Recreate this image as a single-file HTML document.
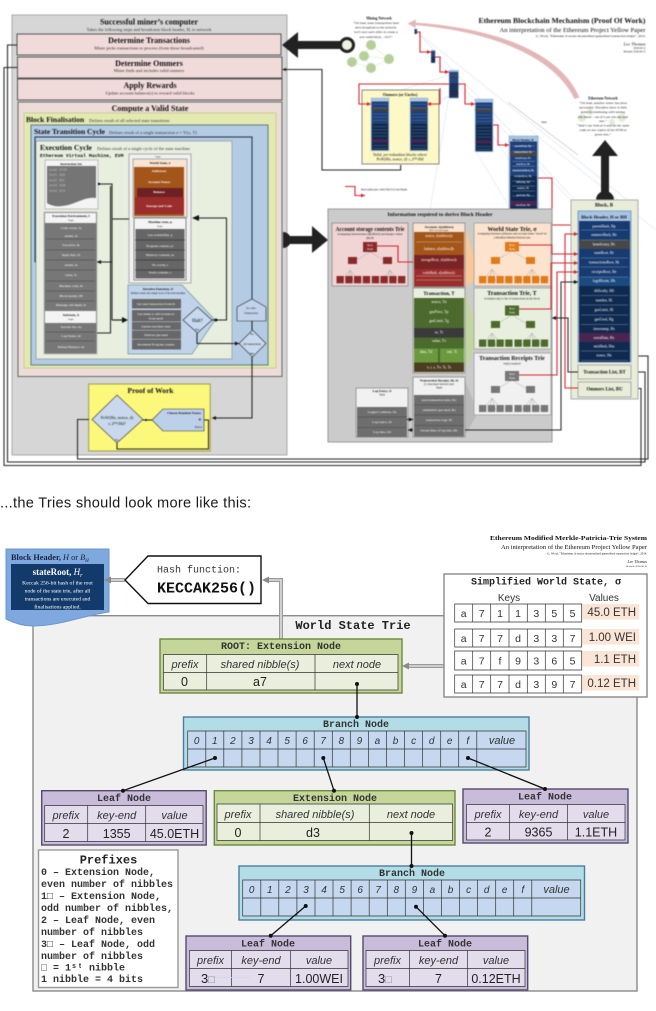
<!DOCTYPE html>
<html><head><meta charset="utf-8"><style>
html,body{margin:0;padding:0;background:#fff;width:656px;height:1011px;overflow:hidden}
svg{display:block;position:absolute;left:0;top:0}
text{font-family:"Liberation Serif",serif;fill:#111}
.c{text-anchor:middle}.e{text-anchor:end}.b{font-weight:bold}.i{font-style:italic}
.w{fill:#fff}.m{font-family:"Liberation Mono","DejaVu Sans Mono",monospace}
.a{font-family:"Liberation Sans","DejaVu Sans",sans-serif}
.t{font-size:3.4px}.u{font-size:4.5px;fill:#333}
.n{font-family:"Liberation Mono",monospace;font-weight:bold;font-size:10px;text-anchor:middle;fill:#333}
.h{font-family:"Liberation Sans",sans-serif;font-style:italic;font-size:11px;text-anchor:middle;fill:#333}
.v{font-family:"Liberation Sans","DejaVu Sans",sans-serif;font-size:12.5px;text-anchor:middle;fill:#222}
.p{font-family:"Liberation Mono",monospace;font-weight:bold;font-size:10px;fill:#333}
.k{font-family:"Liberation Sans",sans-serif;font-size:10px;text-anchor:middle;fill:#333}
.r{fill:none;stroke:#d3252b;stroke-width:1.1}
.d{fill:none;stroke:#222;stroke-width:1.05}
.tb{fill:none;stroke:#333;stroke-width:.7}
</style></head><body>
<svg width="656" height="1011" viewBox="0 0 656 1011" xmlns="http://www.w3.org/2000/svg">
<defs>
<marker id="a" markerWidth="6" markerHeight="6" refX="4" refY="2" orient="auto" markerUnits="userSpaceOnUse"><path d="M0 0L4 2L0 4Z" fill="#111"/></marker>
<marker id="q" markerWidth="6" markerHeight="6" refX="4" refY="2" orient="auto" markerUnits="userSpaceOnUse"><path d="M0 0L4 2L0 4Z" fill="#d3252b"/></marker>
<g id="blk"><rect width="53" height="151" fill="#a8c4e4" stroke="#7f9fc8"/><rect x="2" y="10" width="49" height="62" fill="#1d3f78"/><rect x="2" y="72" width="49" height="77" fill="#102a4f"/><rect x="2" y="28" width="49" height="9" fill="#444"/><rect x="2" y="118" width="49" height="9" fill="#4a2550"/><path d="M6 18H47M6 28H47M6 46H47M6 55H47M6 64H47M6 82H47M6 91H47M6 100H47M6 109H47M6 136H47M6 144H47" stroke="#9db6d8" stroke-width=".7"/></g>
<g id="tree"><path d="M35 9L15 21M35 9L55 21M15 27L5 40M15 27L12 40M15 27L19 40M15 27L26 40M55 27L44 40M55 27L51 40M55 27L58 40M55 27L65 40" stroke="#aaa" stroke-width=".5" fill="none"/></g>
</defs>

<g style="filter:blur(.45px)">
<!-- left main box -->
<rect x="12" y="15" width="275" height="440" fill="#d6d6d6" stroke="#aaa"/>
<text x="149" y="24.5" class="c b" font-size="8">Successful miner’s computer</text>
<text x="149" y="31" class="c u">Takes the following steps and broadcasts block header, H, to network</text>
<rect x="17" y="34" width="264" height="21" fill="#f1dada" stroke="#555"/>
<text x="149" y="43" class="c b" font-size="8">Determine Transactions</text>
<text x="149" y="49.5" class="c u">Miner picks transactions to process (from those broadcasted)</text>
<rect x="17.5" y="57" width="264.5" height="21" fill="#f1dada" stroke="#555"/>
<text x="149" y="66" class="c b" font-size="8">Determine Ommers</text>
<text x="149" y="72" class="c u">Miner finds and includes valid ommers</text>
<rect x="17.5" y="79" width="264.5" height="21" fill="#f1dada" stroke="#555"/>
<text x="150" y="88" class="c b" font-size="8">Apply Rewards</text>
<text x="150" y="94.5" class="c u">Update account balance(s) to reward valid blocks</text>
<rect x="18" y="102" width="264" height="274.5" fill="#eedcd8" stroke="#666"/>
<text x="150" y="111" class="c b" font-size="8">Compute a Valid State</text>
<rect x="24" y="113" width="252" height="255" fill="#e3e9b0" stroke="#c9cf95"/>
<text x="26" y="122" class="b" font-size="7.5">Block Finalisation</text>
<text x="89" y="122" class="u">Defines result of all selected state transitions</text>
<rect x="31" y="125" width="237" height="240" fill="#b4cbe4" stroke="#5f7a80"/>
<text x="34" y="134" class="b" font-size="7.5" fill="#123">State Transition Cycle</text>
<text x="109" y="134" class="u">Defines result of a single transaction σ = Υ(σ, T)</text>
<path d="M35 262V137H252V300" fill="none" stroke="#1a2f44" stroke-width="1"/>
<path d="M35 262H44" class="d" marker-end="url(#a)"/>
<rect x="36" y="141" width="196" height="218" fill="#e9efdf" stroke="#9aa"/>
<text x="40" y="150" class="b" font-size="7.5">Execution Cycle</text>
<text x="97" y="150" class="u">Defines result of a single cycle of the state machine</text>
<text x="40" y="157" class="m b" font-size="4.8">Ethereum Virtual Machine, EVM</text>

<!-- instruction set -->
<rect x="45" y="160" width="53" height="49" fill="#f4f4f4" stroke="#bbb"/>
<text x="71" y="165" class="c t b">Instruction Set</text>
<path d="M47 166H96V198C85 196 75 205 62 206C55 207 50 205 47 203Z" fill="#757575"/>
<text x="49" y="171" class="m t" style="fill:#bbb">0x00 STOP</text><text x="49" y="176" class="m t" style="fill:#bbb">0x01 ADD</text><text x="49" y="181.5" class="m t" style="fill:#bbb">0x02 MUL</text><text x="49" y="186.5" class="m t" style="fill:#bbb">0x03 SUB</text><text x="49" y="192" class="m t" style="fill:#bbb">0x04 DIV</text>

<!-- execution env -->
<rect x="44" y="212" width="53" height="142" fill="#777" stroke="#bbb"/>
<rect x="45" y="213" width="51" height="10" fill="#f4f4f4"/>
<text x="71" y="217" class="c t b">Execution Environment, I</text><text x="71" y="221" class="c" font-size="2.5">Tuple</text>
<rect x="45" y="311" width="51" height="12" fill="#f4f4f4"/>
<text x="71" y="316" class="c t b">Substate, A</text><text x="71" y="320" class="c" font-size="2.5">Tuple</text>
<path d="M46 239H95M46 250H95M46 260H95M46 270H95M46 281H95M46 291H95M46 301H95M46 332H95M46 341H95" stroke="#444" stroke-width=".5"/>
<text x="71" y="229" class="c t w">Code owner, Ia</text><text x="71" y="237" class="c t w">sender, Is</text><text x="71" y="246" class="c t w">Gas price, Ip</text><text x="71" y="256" class="c t w">Input data, Id</text><text x="71" y="266" class="c t w">sender, Is</text><text x="71" y="276" class="c t w">value, Iv</text><text x="71" y="287" class="c t w">Machine code, Ib</text><text x="71" y="297" class="c t w">Block header, IH</text><text x="71" y="306" class="c t w">Message call depth, Ie</text><text x="71" y="328" class="c t w">Suicide Set, As</text><text x="71" y="337" class="c t w">Log Series, Al</text><text x="71" y="348" class="c t w">Refund Balance, Ar</text>

<!-- tasks panel -->
<rect x="129" y="154" width="62" height="129" fill="#f1f1f1" stroke="#aaa"/>
<text x="158" y="157.5" class="c" font-size="2.5">Tuple</text>
<rect x="133" y="159" width="54" height="58" fill="#f9e3d2" stroke="#aaa"/>
<text x="160" y="164" class="c t b">World State, σ</text>
<rect x="134" y="167" width="50" height="49" fill="#a4561a"/>
<rect x="137" y="188" width="46" height="9" fill="#6f2022"/>
<rect x="135" y="197" width="49" height="17" fill="#9b2d2d"/>
<text x="159" y="172" class="c t w b">Addresses</text><text x="159" y="183" class="c t w b">Account Nonce</text><text x="159" y="193" class="c t w b">Balance</text><text x="159" y="207" class="c t w b">Storage and Code</text>
<rect x="134" y="218" width="52" height="62" fill="#f4f4f4" stroke="#888"/>
<text x="160" y="223" class="c t b">Machine state, μ</text><text x="160" y="227" class="c" font-size="2.5">Tuple</text>
<rect x="135.5" y="229" width="49" height="49.5" fill="#666"/>
<path d="M135 240H185M135 250H185M135 260H185M135 270H185" stroke="#222" stroke-width=".6"/>
<text x="160" y="236" class="c t w">Gas availability, g</text><text x="160" y="247" class="c t w">Program counter, pc</text><text x="160" y="256" class="c t w">Memory contents, m</text><text x="160" y="266" class="c t w">No words, i</text><text x="160" y="273.5" class="c t w">Stack contents, s</text>

<!-- iterative -->
<path d="M128 285H182L215 320L192 354H128Z" fill="#c0d3ea" stroke="#8aa"/>
<text x="158" y="290" class="c t b">Iterative Function, O</text><text x="158" y="294" class="c" font-size="2.6">Defines result once single cycle of the state machine</text>
<g fill="#686868"><rect x="132" y="299" width="49" height="9.5"/><rect x="132" y="310" width="49" height="11.5"/><rect x="132" y="322" width="49" height="8"/><rect x="132" y="330.5" width="49" height="8.5"/><rect x="132" y="339.5" width="49" height="10"/></g>
<text x="156" y="305" class="c t w">Get next instruction from Ib</text><text x="156" y="315" class="c t w">Get items to add to/remove</text><text x="156" y="319.5" class="c t w">from stack</text><text x="156" y="327.5" class="c t w">Update machine state</text><text x="156" y="336" class="c t w">Subtract gas used</text><text x="156" y="345.5" class="c t w">Increment Program counter</text>
<path d="M197.5 307L212 320L197.5 333L183 320Z" fill="#c8d8ee" stroke="#222" stroke-width=".6"/>
<text x="197.5" y="322" class="c" font-size="5">Halt?</text><text x="197" y="330.5" class="c" font-size="3">Yes</text>
<path d="M237 307L252 299L266 307V321H237Z" fill="#c0d3ea" stroke="#222" stroke-width=".6"/>
<text x="251" y="309" class="c" font-size="3">Go onto</text><text x="251" y="314" class="c" font-size="3">Transaction</text>
<path d="M252.5 330L266 343.5L252.5 357L239 343.5Z" fill="#c8d8ee" stroke="#222" stroke-width=".6"/>
<text x="252" y="335" class="c" font-size="3">No</text><text x="252" y="345" class="c" font-size="2.8">All transactions</text><text x="252" y="354.5" class="c" font-size="3">Yes</text>

<!-- EVM wires -->
<path d="M99 184H112V320" class="d" stroke-width="1.1"/><circle cx="99" cy="184" r="1.2" fill="#111"/>
<path d="M110.5 186V333H97M112 219H129M112 262H97" class="d" marker-end="url(#a)"/>
<path d="M112 320H125" stroke="#222" stroke-width="1.2"/><path d="M122 317L128 320L122 323Z" fill="#111"/>
<path d="M212 320H226.5V218H197" class="d"/><path d="M199 215L192 218L199 221Z" fill="#111"/><circle cx="216" cy="320" r="1.5" fill="#111"/>
<path d="M197 333V343.5H239" class="d" marker-end="url(#a)"/>
<path d="M252 321V330" class="d"/>
<path d="M252 357V418H212" class="d" marker-end="url(#a)"/>

<!-- PoW -->
<rect x="88.7" y="384" width="121.5" height="67" fill="#fbf87c" stroke="#9a9a55"/>
<text x="150.5" y="393" class="c b" font-size="7.5">Proof of Work</text>
<path d="M92 419.5L117 395L143 419.5L117 443Z" fill="#c9d8ec" stroke="#333" stroke-width=".6"/>
<text x="117" y="419" class="c" font-size="4.2">PoW(Hn, nonce, d)</text><text x="117" y="425" class="c" font-size="4.2">≤ 2²⁵⁶/Hd?</text><text x="117" y="441" class="c" font-size="3.2">No</text>
<path d="M152 420L163 409H204V431H163Z" fill="#bdd0ea" stroke="#333" stroke-width=".6"/>
<text x="184" y="414" class="c b" font-size="3.4">Choose Random Nonce</text><text x="201" y="420.5" class="e b" font-size="4">n</text><text x="202" y="428" class="e" font-size="2.8">Pick it</text>
<path d="M152 420H143" class="d"/><circle cx="146" cy="420" r="1" fill="#111"/>
<path d="M117 443V449H208.5V420H204" class="d" stroke="#5b5b00"/>

<!-- outer wires -->
<path d="M17 45H7.5V462H645V372H632" class="d" marker-end="url(#a)"/>
<path d="M17 67.5H4V465.5H641V388.5H632" class="d" marker-end="url(#a)"/>
<path d="M89 419.5H77.5V459H648V356H632" class="d" marker-end="url(#a)"/>
<path d="M283 69.5H322V170H400.7V165" class="d" stroke="#333"/><path d="M286 68L282 69.5L286 71Z" fill="#111"/>

<!-- big arrows -->
<path d="M347 41H298V32L282 45L298 58V49H347Z" fill="#222"/>
<circle cx="347" cy="45" r="6.5" fill="#eef2e4" stroke="#222" stroke-width="3"/>
<path d="M283 232A8 8 0 0 1 283 248Z" fill="#222"/>
<path d="M286 236H312V226L328 240L312 253V244H286Z" fill="#222"/>

<!-- mining network -->
<path d="M371 45L364 56L352 62M364 56L371 68M364 56L389 59M371 45L389 59M352 62L371 68M371 68L389 59" stroke="#dfe9d2" stroke-width=".6" fill="none"/>
<g fill="#b7d09a"><circle cx="371" cy="45" r="5"/><circle cx="364" cy="56" r="5"/><circle cx="352" cy="62" r="5"/><circle cx="371" cy="68" r="5"/><circle cx="389" cy="59" r="5"/></g>
<text x="379" y="19.5" class="c b" font-size="3.6">Mining Network</text>
<text class="c i" font-size="3.4"><tspan x="376" y="24">“Oh look, some transactions have</tspan><tspan x="376" y="28.5">been broadcast to the network.</tspan><tspan x="376" y="33">Let’s race each other to create a</tspan><tspan x="376" y="38">new valid block… GO!”</tspan></text>

<!-- title -->
<text x="645.5" y="23" class="e b" font-size="7.6" textLength="167" lengthAdjust="spacingAndGlyphs">Ethereum Blockchain Mechanism (Proof Of Work)</text>
<text x="645.5" y="32" class="e" font-size="6.6" textLength="146" lengthAdjust="spacingAndGlyphs">An interpretation of the Ethereum Project Yellow Paper</text>
<text x="645.5" y="37" class="e" font-size="3.3">G. Wood, “Ethereum: A secure decentralised generalised transaction ledger”, 2014.</text>
<text x="645.5" y="45.5" class="e i" font-size="4.5">Lee Thomas</text>
<text x="645.5" y="49" class="e" font-size="2.6">2016-04-12</text><text x="645.5" y="52.5" class="e" font-size="2.6">Revised: 2016-06-15</text>

<!-- faint fan lines -->
<path d="M417 32L640 210M417 32L575 200M436 60L580 210M458 85L540 205M449 96L385 120M449 96L430 210M449 96L362 160M475 150L510 208M449 75L370 100M530 130L656 230" stroke="#dce8f0" stroke-width=".7" fill="none"/>
<path d="M508 102L578 155" stroke="#999" stroke-width=".5" fill="none"/><text x="544" y="123" class="c" font-size="3">time</text>

<!-- pink arrow (tapered) -->
<path d="M579.5 97.5C558 47 482 26.5 413 22.5L413.5 25C480 30 552 52 574.5 99Z" fill="#e3b7ba"/>
<path d="M407.5 23.5L416 19.5L415.5 28Z" fill="#e3b7ba"/>

<!-- blocks -->
<rect x="414.5" y="29" width="2.5" height="5" fill="#1d3f78"/>
<use href="#blk" transform="translate(431,50) scale(.08,.086)"/>
<use href="#blk" transform="translate(449,70) scale(.18,.186)"/>
<use href="#blk" transform="translate(475,99) scale(.34,.35)"/>
<use href="#blk" transform="translate(509,136) scale(.55,.55)"/>
<text x="523" y="141" class="c b" font-size="3">Block Header, H</text>
<text class="c w" font-size="2.6"><tspan x="523" y="147" class="w">parentHash, Hp</tspan><tspan x="523" y="153">ommersHash, Ho</tspan><tspan x="523" y="159">beneficiary, Hc</tspan><tspan x="523" y="165">stateRoot, Hr</tspan><tspan x="523" y="171">transactionsRoot, Ht</tspan><tspan x="523" y="177">receiptsRoot, He</tspan><tspan x="523" y="183">difficulty, Hd</tspan><tspan x="523" y="189">number, Hi</tspan><tspan x="523" y="196">gasUsed, Hg</tspan><tspan x="523" y="206">extraData, Hx</tspan></text>

<!-- ommers box -->
<rect x="362" y="90" width="77" height="74" fill="#fdf9c6" stroke="#888"/>
<text x="400" y="96" class="c b" font-size="4">Ommers (or Uncles)</text>
<use href="#blk" transform="translate(371,98) scale(.34,.35)"/>
<use href="#blk" transform="translate(410,98) scale(.34,.35)"/>
<text x="400" y="156" class="c i" font-size="4">Valid, yet redundant blocks where</text>
<text x="400" y="160.5" class="c i" font-size="4">PoW(Hn, nonce, d) ≤ 2²⁵⁶/Hd</text>

<!-- red chain -->
<path d="M417 32H420V52H431" class="r" marker-end="url(#q)"/>
<path d="M435 57H440V72H449" class="r" marker-end="url(#q)"/>
<path d="M449 84H359V104H371" class="r" marker-end="url(#q)"/>
<path d="M458 84H465V104H475" class="r" marker-end="url(#q)"/>
<path d="M440 88V104H427" class="r" marker-end="url(#q)"/>
<path d="M493 125H498V145H509" class="r" marker-end="url(#q)"/>
<path d="M538 178H552V225H578" class="r" marker-end="url(#q)"/>
<path d="M345 186.5H355V195.5H365" class="r" marker-end="url(#q)"/>
<text x="361" y="190.5" font-size="3.2">Red indicates 160/256/512-bit Hash</text>

<!-- ethereum network text -->
<g fill="#e2ecd5"><circle cx="582" cy="118" r="4"/><circle cx="622" cy="118" r="4"/><circle cx="590" cy="112" r="3"/><circle cx="612" cy="122" r="3"/></g>
<text x="603" y="99.5" class="c b" font-size="3.6">Ethereum Network</text>
<text class="c i" font-size="3.5"><tspan x="603" y="104">“Oh look, another miner has been</tspan><tspan x="603" y="108.5">successful. Therefore there is little</tspan><tspan x="603" y="113">point in continuing with mining</tspan><tspan x="603" y="118">this block – see if I can win the next</tspan><tspan x="603" y="122">one.”</tspan><tspan x="603" y="126.5">“And I can look at it and do the same</tspan><tspan x="603" y="131">code on our copies of the EVM to</tspan><tspan x="603" y="135.5">prove this.”</tspan></text>
<path d="M605 140L618 156H609V195H601V156H592Z" fill="#222"/>
<path d="M596 200A9 9 0 0 1 614 200Z" fill="#222"/>

<!-- Information box -->
<rect x="328" y="209" width="224" height="233" fill="#cbcbcb" stroke="#999"/>
<text x="440" y="216" class="c b" font-size="5.7" textLength="105" lengthAdjust="spacingAndGlyphs">Information required to derive Block Header</text>

<!-- trees -->
<rect x="332" y="223" width="76" height="63" fill="#f1d5d5" stroke="#999"/>
<text x="370" y="231" class="c b" font-size="5.8" textLength="69" lengthAdjust="spacingAndGlyphs">Account storage contents Trie</text>
<text x="370" y="235" class="c" font-size="3">A mapping between keccak(SHA3) and Integer values</text><text x="370" y="239" class="c" font-size="3">(RLP)</text>
<use href="#tree" transform="translate(335,243)"/>
<rect x="363" y="242" width="14" height="10" fill="#8b2a2a"/><text x="370" y="246" class="c w" font-size="2.8">Root</text><text x="370" y="250" class="c w" font-size="2.8">Node</text>
<g fill="#8b2a2a"><rect x="348" y="257" width="9" height="7"/><rect x="383" y="257" width="9" height="7"/><rect x="336.5" y="276" width="7.3" height="7.3"/><rect x="345.3" y="276" width="7.3" height="7.3"/><rect x="354" y="276" width="7.3" height="7.3"/><rect x="362.8" y="276" width="7.3" height="7.3"/><rect x="371.8" y="276" width="7.3" height="7.3"/><rect x="380.5" y="276" width="7.3" height="7.3"/><rect x="389.2" y="276" width="7.3" height="7.3"/><rect x="398" y="276" width="7.3" height="7.3"/></g>

<path d="M465 225L479 277L465 287Z" fill="#fbc796"/>
<path d="M465 290L479 338L465 370Z" fill="#c2d6a0"/>
<path d="M465 380L478 413L465 435Z" fill="#b9b9b9"/>

<rect x="474" y="223" width="77" height="63" fill="#fde3cd" stroke="#aaa"/>
<text x="512" y="231" class="c b" font-size="6">World State Trie, σ</text>
<text x="512" y="234.5" class="c" font-size="2.9">A mapping between addresses and account states ‘stored’ in</text><text x="512" y="238.5" class="c" font-size="2.9">a Modified Merkle-Patricia tree</text>
<use href="#tree" transform="translate(477,242)"/>
<rect x="505" y="242" width="14" height="9.5" fill="#e07b1a"/><text x="512" y="246" class="c w" font-size="2.8">Root</text><text x="512" y="250" class="c w" font-size="2.8">Node</text>
<g fill="#e07b1a"><rect x="491" y="257" width="9" height="7"/><rect x="526" y="257" width="9" height="7"/><rect x="479" y="276" width="7.3" height="7.3"/><rect x="487.8" y="276" width="7.3" height="7.3"/><rect x="496.5" y="276" width="7.3" height="7.3"/><rect x="505.2" y="276" width="7.3" height="7.3"/><rect x="514.5" y="276" width="7.3" height="7.3"/><rect x="523.2" y="276" width="7.3" height="7.3"/><rect x="532" y="276" width="7.3" height="7.3"/><rect x="540.8" y="276" width="7.3" height="7.3"/></g>

<rect x="474" y="288" width="77" height="61" fill="#e9efdf" stroke="#aaa"/>
<text x="512" y="295" class="c b" font-size="6">Transaction Trie, T</text>
<text x="512" y="299.5" class="c" font-size="2.9">A trie(keccak) to list of transactions in the block</text>
<use href="#tree" transform="translate(477,306)"/>
<rect x="505" y="305.5" width="14" height="10" fill="#4c6a2b"/><text x="512" y="309.5" class="c w" font-size="2.8">Root</text><text x="512" y="313.5" class="c w" font-size="2.8">Node</text>
<g fill="#4c6a2b"><rect x="491" y="321" width="9" height="7"/><rect x="526" y="321" width="9" height="7"/><rect x="479" y="339.5" width="7.3" height="7.3"/><rect x="487.8" y="339.5" width="7.3" height="7.3"/><rect x="496.5" y="339.5" width="7.3" height="7.3"/><rect x="505.2" y="339.5" width="7.3" height="7.3"/><rect x="514.5" y="339.5" width="7.3" height="7.3"/><rect x="523.2" y="339.5" width="7.3" height="7.3"/><rect x="532" y="339.5" width="7.3" height="7.3"/><rect x="540.8" y="339.5" width="7.3" height="7.3"/></g>

<rect x="474" y="353" width="77" height="62" fill="#f1f1f1" stroke="#aaa"/>
<text x="512" y="360" class="c b" font-size="6">Transaction Receipts Trie</text>
<text x="512" y="364.5" class="c" font-size="2.9">trie(r) required</text>
<use href="#tree" transform="translate(477,371)"/>
<rect x="505" y="371" width="14" height="10" fill="#777"/><text x="512" y="375" class="c w" font-size="2.8">Root</text><text x="512" y="379" class="c w" font-size="2.8">Node</text>
<g fill="#777"><rect x="491" y="386" width="9" height="7"/><rect x="526" y="386" width="9" height="7"/><rect x="479" y="405" width="7.3" height="7"/><rect x="487.8" y="405" width="7.3" height="7"/><rect x="496.5" y="405" width="7.3" height="7"/><rect x="505.2" y="405" width="7.3" height="7"/><rect x="514.5" y="405" width="7.3" height="7"/><rect x="523.2" y="405" width="7.3" height="7"/><rect x="532" y="405" width="7.3" height="7"/><rect x="540.8" y="405" width="7.3" height="7"/></g>

<!-- account -->
<rect x="413" y="223" width="52" height="64" fill="#f9e3d2" stroke="#999"/>
<text x="439" y="228" class="c b" font-size="3.4">Account, σ[address]</text><text x="439" y="231" class="c" font-size="2.5">RLP-encoded tuple</text>
<rect x="414" y="232" width="50" height="23" fill="#a4561a"/><rect x="414" y="255" width="50" height="14" fill="#7a2424"/><rect x="414" y="269" width="50" height="17.5" fill="#9b2d2d"/>
<text x="439" y="237" class="c w" font-size="3.6">nonce, σ[address]n</text><text x="439" y="250" class="c w" font-size="3.6">balance, σ[address]b</text><text x="439" y="261" class="c w" font-size="3.6">storageRoot, σ[address]s</text><text x="439" y="274" class="c w" font-size="3.6">codeHash, σ[address]c</text>
<path d="M416 242H462M416 276H462M416 280H462" stroke="#dca" stroke-width=".4"/>

<!-- transaction -->
<rect x="413" y="288" width="52" height="85" fill="#e9efdf" stroke="#999"/>
<text x="439" y="295" class="c b" font-size="5">Transaction, T</text>
<rect x="414" y="298" width="50" height="74" fill="#4b6b2d"/><rect x="414" y="328" width="50" height="9.5" fill="#3a3a3a"/><rect x="414" y="348.5" width="24" height="14" fill="#6a9a3d"/><rect x="440" y="348.5" width="24" height="14" fill="#6a9a3d"/><rect x="414" y="362.5" width="50" height="9.5" fill="#4a3d20"/>
<text class="c w" font-size="3.8"><tspan x="439" y="303" class="w">nonce, Tn</tspan><tspan x="439" y="313">gasPrice, Tp</tspan><tspan x="439" y="322">gasLimit, Tg</tspan><tspan x="439" y="333.5">to, Tt</tspan><tspan x="439" y="342">value, Tv</tspan><tspan x="426" y="353">data, Td</tspan><tspan x="452" y="353">init, Ti</tspan><tspan x="439" y="368.5">v, r, s, Tv, Tr, Ts</tspan></text>

<!-- receipts -->
<rect x="413" y="377" width="52" height="60" fill="#f1f1f1" stroke="#999"/>
<text x="439" y="381.5" class="c b" font-size="3.4">Transaction Receipt, Ri, Ω</text><text x="439" y="385" class="c" font-size="2.8">(C-structured derived one)</text><text x="439" y="388.5" class="c" font-size="2.8">Tuple</text>
<rect x="414" y="395" width="50" height="41.5" fill="#6e6e6e"/><path d="M414 405H464M414 415H464M414 425.5H464" stroke="#444" stroke-width=".5"/>
<text class="c w" font-size="3.4"><tspan x="439" y="401" class="w">post-transaction state, Rσ</tspan><tspan x="439" y="411">cumulative gas used, Ru</tspan><tspan x="439" y="421">transaction logs, Rl</tspan><tspan x="439" y="431.5">bloom filter of log info, Rb</tspan></text>

<!-- log -->
<rect x="356" y="388" width="52" height="49" fill="#f1f1f1" stroke="#999"/>
<text x="382" y="392" class="c b" font-size="3.4">Log Entry, O</text><text x="382" y="395.5" class="c" font-size="2.6">Tuple</text>
<rect x="357" y="407" width="50" height="30" fill="#6e6e6e"/><path d="M357 417H407M357 427.5H407" stroke="#444" stroke-width=".5"/>
<text class="c w" font-size="3.4"><tspan x="382" y="413" class="w">Logger’s address, Oa</tspan><tspan x="382" y="423">Log topics, Ot</tspan><tspan x="382" y="433">Log data, Od</tspan></text>
<path d="M407 419.5H413" class="d" marker-end="url(#a)"/><path d="M413 430H408" class="d" marker-end="url(#a)"/>

<!-- Block -->
<rect x="571" y="200" width="67" height="199" fill="#e8edd9" stroke="#aaa"/>
<text x="604" y="206.5" class="c b" font-size="5">Block, B</text>
<rect x="578" y="211" width="53" height="151" fill="#a8c4e4" stroke="#7f9fc8"/>
<text x="604" y="218.5" class="c b" font-size="4.6">Block Header, H or BH</text>
<g fill="#173a70"><rect x="579" y="221" width="51" height="19"/><rect x="579" y="249" width="51" height="28"/></g>
<rect x="579" y="240" width="51" height="9" fill="#474747"/>
<rect x="579" y="277" width="51" height="9" fill="#1b4a80"/>
<rect x="579" y="286" width="51" height="76" fill="#102a4f"/>
<rect x="579" y="333" width="51" height="9" fill="#4a2550"/>
<path d="M581 230H628M581 240H628M581 258H628M581 267H628M581 277H628M581 295.5H628M581 305H628M581 315H628M581 324.5H628M581 351H628M581 360.5H628" stroke="#8fa9cc" stroke-width=".4"/>
<text class="c w" font-size="3.7"><tspan x="604" y="227.5" class="w">parentHash, Hp</tspan><tspan x="604" y="236">ommersHash, Ho</tspan><tspan x="604" y="245.5">beneficiary, Hc</tspan><tspan x="604" y="254">stateRoot, Hr</tspan><tspan x="604" y="263.5">transactionsRoot, Ht</tspan><tspan x="604" y="273">receiptsRoot, He</tspan><tspan x="604" y="282">logsBloom, Hb</tspan><tspan x="604" y="292">difficulty, Hd</tspan><tspan x="604" y="301.5">number, Hi</tspan><tspan x="604" y="311">gasLimit, Hl</tspan><tspan x="604" y="320.5">gasUsed, Hg</tspan><tspan x="604" y="330">timestamp, Hs</tspan><tspan x="604" y="339">extraData, Hx</tspan><tspan x="604" y="347.5">mixHash, Hm</tspan><tspan x="604" y="356.5">nonce, Hn</tspan></text>
<rect x="578" y="365" width="53" height="14" fill="#e8edd9" stroke="#aaa"/>
<text x="604.5" y="373.5" class="c b" font-size="4.8">Transaction List, BT</text>
<rect x="578" y="382" width="53" height="15" fill="#e8edd9" stroke="#aaa"/>
<text x="604.5" y="390.5" class="c b" font-size="4.8">Ommers List, BU</text>

<!-- block wires -->
<path d="M377 246H398V262H413" class="r"/>
<path d="M519 245H552V254H578" class="r" marker-end="url(#q)"/>
<path d="M519 309H551V263H578" class="r" marker-end="url(#q)"/>
<path d="M519 375H557V272H578" class="r" marker-end="url(#q)"/>
<path d="M578 388H565V234H578" class="r" marker-end="url(#q)"/>
<path d="M578 372H568V318H552" class="d" marker-end="url(#a)"/>
<path d="M465 430H561V282H578" class="d" marker-end="url(#a)"/>
</g>

<!-- caption -->
<text x="0" y="507.5" class="a" font-size="14.6" style="fill:#1a1a1a" textLength="251">...the Tries should look more like this:</text>

<!-- ============ lower diagram ============ -->
<g style="filter:blur(.35px)">
<text x="647" y="540" class="e b" font-size="6.6" textLength="157" lengthAdjust="spacingAndGlyphs">Ethereum Modified Merkle-Patricia-Trie System</text>
<text x="647" y="549" class="e" font-size="5.8" textLength="146" lengthAdjust="spacingAndGlyphs">An interpretation of the Ethereum Project Yellow Paper</text>
<text x="647" y="554.5" class="e" font-size="3">G. Wood, “Ethereum: A secure decentralised generalised transaction ledger”, 2014.</text>
<text x="647" y="563" class="e i" font-size="4">Lee Thomas</text>
<text x="647" y="567" class="e" font-size="2.5">Revised: 2016-06-15</text>

<rect x="33" y="615.7" width="604" height="375.3" fill="#f1f1f1" stroke="#8a8a8a" stroke-width="1.4"/>
<text x="353" y="629" class="m b c" font-size="12" style="fill:#222">World State Trie</text>

<!-- block header flag -->
<path d="M6 549H109V612C85 615 60 626 33 626C22 626 12 622 6 619Z" fill="#7ea8de" stroke="#6b96cf"/>
<text x="11" y="560" font-size="8.3" style="fill:#15233f"><tspan class="b">Block Header,</tspan> <tspan class="i">H</tspan> or <tspan class="i">B</tspan><tspan class="i" font-size="5" dy="2">H</tspan></text>
<rect x="11" y="564" width="93" height="46" fill="#123a6b"/>
<text x="57.5" y="575" class="c w b" font-size="9"><tspan class="w">stateRoot,</tspan> <tspan class="w i" font-weight="normal">H</tspan><tspan class="w i" font-weight="normal" font-size="6" dy="2">r</tspan></text>
<text class="c w" font-size="5.6"><tspan x="57.5" y="584.5" class="w">Keccak 256-bit hash of the root</tspan><tspan x="57.5" y="592.5">node of the state trie, after all</tspan><tspan x="57.5" y="600.5">transactions are executed and</tspan><tspan x="57.5" y="608.5">finalisations applied.</tspan></text>

<!-- gray arrows -->
<path d="M125 580H110" stroke="#9a9a9a" stroke-width="4" fill="none"/><path d="M125 580H110" stroke="#eee" stroke-width="1.3" fill="none"/><path d="M111 576.5L104 580L111 583.5Z" fill="#8a8a8a"/>
<path d="M281 640V580H268" stroke="#9a9a9a" stroke-width="4" fill="none"/><path d="M281 640V580H268" stroke="#eee" stroke-width="1.3" fill="none"/><path d="M269 576.5L262 580L269 583.5Z" fill="#8a8a8a"/>
<path d="M444 666H408" stroke="#9a9a9a" stroke-width="4" fill="none"/><path d="M444 666H408" stroke="#eee" stroke-width="1.3" fill="none"/><path d="M409 662.5L402 666L409 669.5Z" fill="#8a8a8a"/>

<!-- hash -->
<path d="M125 580L148 556H261V603.5H148Z" fill="#fff" stroke="#111" stroke-width="1.4"/>
<text x="157" y="572.5" class="m" font-size="10" style="fill:#333">Hash function:</text>
<text x="157" y="592.5" class="m b" font-size="15" style="fill:#111">KECCAK256()</text>

<!-- simplified -->
<rect x="444" y="574" width="203" height="123" fill="#fff" stroke="#888" stroke-width="1.4"/>
<text x="546" y="584.5" class="m b c" font-size="10" style="fill:#222">Simplified World State, σ</text>
<text x="509" y="601" class="k">Keys</text><text x="604" y="601" class="k">Values</text>
<g fill="#fbe5d6"><rect x="581.7" y="604" width="57.5" height="15.5"/><rect x="581.7" y="629" width="57.5" height="15.5"/><rect x="581.7" y="651" width="57.5" height="15.5"/><rect x="581.7" y="675" width="57.5" height="15.5"/></g>
<g fill="none" stroke="#333" stroke-width=".7">
<path d="M454.7 604H581.7V622H454.7ZM454.7 629H581.7V647H454.7ZM454.7 651H581.7V670H454.7ZM454.7 675H581.7V693H454.7Z"/>
<path d="M472.7 604V622M490.7 604V622M509 604V622M527.3 604V622M545.3 604V622M563.3 604V622M472.7 629V647M490.7 629V647M509 629V647M527.3 629V647M545.3 629V647M563.3 629V647M472.7 651V670M490.7 651V670M509 651V670M527.3 651V670M545.3 651V670M563.3 651V670M472.7 675V693M490.7 675V693M509 675V693M527.3 675V693M545.3 675V693M563.3 675V693"/>
</g>
<text x="463.7 481.7 500 518 536.3 554.3 572.5" y="617" class="a c" font-size="10.5" style="fill:#333">a711355</text>
<text x="463.7 481.7 500 518 536.3 554.3 572.5" y="642" class="a c" font-size="10.5" style="fill:#333">a77d337</text>
<text x="463.7 481.7 500 518 536.3 554.3 572.5" y="664.5" class="a c" font-size="10.5" style="fill:#333">a7f9365</text>
<text x="463.7 481.7 500 518 536.3 554.3 572.5" y="688" class="a c" font-size="10.5" style="fill:#333">a77d397</text>
<text x="636" y="616" class="a e" font-size="11.5" style="fill:#333">45.0 ETH</text><text x="636" y="641" class="a e" font-size="11.5" style="fill:#333">1.00 WEI</text><text x="636" y="663" class="a e" font-size="11.5" style="fill:#333">1.1 ETH</text><text x="636" y="687" class="a e" font-size="11.5" style="fill:#333">0.12 ETH</text>

<!-- root ext -->
<rect x="160" y="639" width="242" height="54" fill="#c5d69b" stroke="#6d8a3d" stroke-width="1.4"/>
<text x="281" y="649" class="n">ROOT: Extension Node</text>
<rect x="163.5" y="654.5" width="234.5" height="35.5" fill="#e9efdc"/>
<path d="M163.5 654.5H398V690H163.5ZM163.5 672.5H398M206.7 654.5V690M315 654.5V690" class="tb"/>
<text x="185" y="668" class="h">prefix</text><text x="260" y="668" class="h">shared nibble(s)</text><text x="357" y="668" class="h">next node</text>
<text x="184.5" y="686" class="v">0</text><text x="260" y="686" class="v">a7</text>

<!-- branch 1 -->
<rect x="183.5" y="717" width="345.5" height="53" fill="#b2dde6" stroke="#4a7ea0" stroke-width="1.4"/>
<text x="356" y="727" class="n">Branch Node</text>
<rect x="187.7" y="731" width="338.3" height="36" fill="#c5d8ef"/>
<path d="M187.7 731H526V767H187.7ZM187.7 749H526M205.8 731V767M223.8 731V767M241.9 731V767M260 731V767M278 731V767M296.1 731V767M314.2 731V767M332.3 731V767M350.3 731V767M368.4 731V767M386.5 731V767M404.5 731V767M422.6 731V767M440.7 731V767M458.7 731V767M476.8 731V767" class="tb"/>
<text x="196.7 214.8 232.9 251 269 287.1 305.2 323.2 341.3 359.4 377.4 395.5 413.6 431.6 449.7 467.8" y="744" class="a i c" font-size="10" style="fill:#333">0123456789abcdef</text>
<text x="502" y="744" class="h" font-size="10">value</text>

<!-- leaf L -->
<rect x="41.7" y="790.7" width="164.5" height="54.3" fill="#c9bcdb" stroke="#544a6d" stroke-width="1.4"/>
<text x="124" y="801" class="n">Leaf Node</text>
<rect x="44.7" y="805.5" width="158.3" height="36" fill="#e3dcec"/>
<path d="M44.7 805.5H203V841.5H44.7ZM44.7 823.5H203M87.7 805.5V841.5M145.7 805.5V841.5" class="tb"/>
<text x="66" y="819" class="h">prefix</text><text x="116.7" y="819" class="h">key-end</text><text x="174.5" y="819" class="h">value</text>
<text x="66" y="838" class="v">2</text><text x="116.7" y="838" class="v">1355</text><text x="174.5" y="838" class="v">45.0ETH</text>

<!-- ext -->
<rect x="214.3" y="790.7" width="240.7" height="54.3" fill="#c5d69b" stroke="#6d8a3d" stroke-width="1.4"/>
<text x="335" y="801" class="n">Extension Node</text>
<rect x="217" y="804" width="235.5" height="36.5" fill="#e9efdc"/>
<path d="M217 804H452.5V840.5H217ZM217 822.5H452.5M260 804V840.5M369.3 804V840.5" class="tb"/>
<text x="238" y="818" class="h">prefix</text><text x="315" y="818" class="h">shared nibble(s)</text><text x="411" y="818" class="h">next node</text>
<text x="238" y="837" class="v">0</text><text x="313" y="837" class="v">d3</text>

<!-- leaf R -->
<rect x="463" y="789" width="165" height="54" fill="#c9bcdb" stroke="#544a6d" stroke-width="1.4"/>
<text x="545" y="799.5" class="n">Leaf Node</text>
<rect x="466.5" y="804.5" width="158.5" height="35.5" fill="#e3dcec"/>
<path d="M466.5 804.5H625V840H466.5ZM466.5 822.5H625M509.5 804.5V840M567.5 804.5V840" class="tb"/>
<text x="488" y="818" class="h">prefix</text><text x="538.5" y="818" class="h">key-end</text><text x="596" y="818" class="h">value</text>
<text x="488" y="836.5" class="v">2</text><text x="538.5" y="836.5" class="v">9365</text><text x="596" y="836.5" class="v">1.1ETH</text>

<!-- prefixes -->
<rect x="38.5" y="850" width="139.5" height="137.5" fill="#fff" stroke="#999" stroke-width="1.4"/>
<text x="108.5" y="863.5" class="m b c" font-size="12" style="fill:#222">Prefixes</text>
<text x="41" y="875" class="p">0 – Extension Node,</text>
<text x="41" y="887" class="p">even number of nibbles</text>
<text x="41" y="899" class="p">1□ – Extension Node,</text>
<text x="41" y="911" class="p">odd number of nibbles,</text>
<text x="41" y="923" class="p">2 – Leaf Node, even</text>
<text x="41" y="935" class="p">number of nibbles</text>
<text x="41" y="947" class="p">3□ – Leaf Node, odd</text>
<text x="41" y="959" class="p">number of nibbles</text>
<text x="41" y="970.5" class="p">□ = 1ˢᵗ nibble</text>
<text x="41" y="982" class="p">1 nibble = 4 bits</text>

<!-- branch 2 -->
<rect x="239" y="866" width="345.5" height="54" fill="#b2dde6" stroke="#4a7ea0" stroke-width="1.4"/>
<text x="412" y="876" class="n">Branch Node</text>
<rect x="242.7" y="880" width="338" height="36" fill="#c5d8ef"/>
<path d="M242.7 880H580.7V916H242.7ZM242.7 898H580.7M260.8 880V916M278.8 880V916M296.9 880V916M315 880V916M333 880V916M351.1 880V916M369.2 880V916M387.3 880V916M405.3 880V916M423.4 880V916M441.5 880V916M459.5 880V916M477.6 880V916M495.7 880V916M513.7 880V916M531.8 880V916" class="tb"/>
<text x="251.7 269.8 287.9 306 324 342.1 360.2 378.2 396.3 414.4 432.4 450.5 468.6 486.6 504.7 522.8" y="893" class="a i c" font-size="10" style="fill:#333">0123456789abcdef</text>
<text x="556.5" y="893" class="h" font-size="10">value</text>

<!-- leaf bottom -->
<rect x="186" y="936" width="164.7" height="54" fill="#c9bcdb" stroke="#544a6d" stroke-width="1.4"/>
<text x="268" y="946.5" class="n">Leaf Node</text>
<rect x="189.5" y="950.5" width="158.5" height="36" fill="#e3dcec"/>
<path d="M189.5 950.5H348V986.5H189.5ZM189.5 968.5H348M231.5 950.5V986.5M290.5 950.5V986.5" class="tb"/>
<text x="210.5" y="964" class="h">prefix</text><text x="261" y="964" class="h">key-end</text><text x="319" y="964" class="h">value</text>
<path d="M212 977.5H250M389 977.5H427" stroke="#cfd6ea" stroke-width=".7" fill="none"/>
<text x="201" y="983" class="a" font-size="13" style="fill:#222">3<tspan font-size="11" fill="#888">□</tspan></text><text x="261" y="983" class="v">7</text><text x="319" y="983" class="v">1.00WEI</text>

<rect x="363" y="936" width="164.7" height="54" fill="#c9bcdb" stroke="#544a6d" stroke-width="1.4"/>
<text x="445" y="946.5" class="n">Leaf Node</text>
<rect x="366" y="950.5" width="159" height="36" fill="#e3dcec"/>
<path d="M366 950.5H525V986.5H366ZM366 968.5H525M409.5 950.5V986.5M467.5 950.5V986.5" class="tb"/>
<text x="387.5" y="964" class="h">prefix</text><text x="438.5" y="964" class="h">key-end</text><text x="496" y="964" class="h">value</text>
<text x="378" y="983" class="a" font-size="13" style="fill:#222">3<tspan font-size="11" fill="#888">□</tspan></text><text x="438.5" y="983" class="v">7</text><text x="496" y="983" class="v">0.12ETH</text>

<!-- connectors -->
<g stroke="#111" stroke-width="1.3" fill="none">
<path d="M357 684V717M215 758L123 790.7M323.3 758L334 790.7M468 758L545 789M411.5 833V866M305.7 906L270.7 935.7M416 906.7L445 935.7"/>
</g>
<g fill="#111">
<circle cx="357" cy="684" r="2"/><circle cx="357" cy="717" r="2"/><circle cx="215" cy="758" r="2"/><circle cx="123" cy="790.7" r="2"/><circle cx="323.3" cy="758" r="2"/><circle cx="334" cy="790.7" r="2"/><circle cx="468" cy="758" r="2"/><circle cx="545" cy="789" r="2"/><circle cx="411.5" cy="833" r="2"/><circle cx="411.5" cy="866" r="2"/><circle cx="305.7" cy="906" r="2"/><circle cx="270.7" cy="935.7" r="2"/><circle cx="416" cy="906.7" r="2"/><circle cx="445" cy="935.7" r="2"/>
</g>
</g>
</svg>
</body></html>
